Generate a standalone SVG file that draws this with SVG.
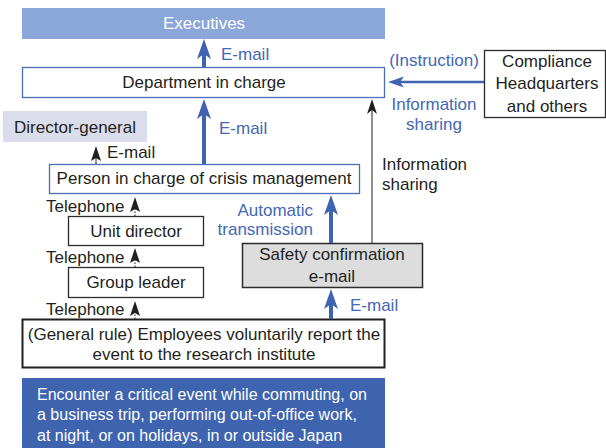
<svg xmlns="http://www.w3.org/2000/svg" width="606" height="448" viewBox="0 0 606 448">
<style>
text{font-family:"Liberation Sans",Arial,Helvetica,sans-serif;font-size:17px;fill:#231f20}
.c{text-anchor:middle}
.e{text-anchor:end}
.w{fill:#ffffff}
.s{font-size:16px}
.b{fill:#4467b4}
.bx{fill:#ffffff;stroke:#2b2b2b;stroke-width:1.3}
.bb{fill:#ffffff;stroke:#4a6db6;stroke-width:1.3}
.thick{stroke:#3f63b0;stroke-width:4;fill:none}
.med{stroke:#3f63b0;stroke-width:2.5;fill:none}
.thin{stroke:#231f20;stroke-width:1;fill:none}
.dot{stroke:#231f20;stroke-width:1;stroke-dasharray:1.5 1.5;fill:none}
</style>
<defs>
<marker id="hb" markerUnits="userSpaceOnUse" viewBox="0 0 20 14" markerWidth="20" markerHeight="14" refX="5" refY="7" orient="auto"><path d="M0,0 L20,7 L0,14 L5,7 Z" fill="#3f63b0"/></marker>
<marker id="hm" markerUnits="userSpaceOnUse" viewBox="0 0 16 11" markerWidth="16" markerHeight="11" refX="4" refY="5.5" orient="auto"><path d="M0,0 L16,5.5 L0,11 L4,5.5 Z" fill="#3f63b0"/></marker>
<marker id="hk" markerUnits="userSpaceOnUse" viewBox="0 0 15 10" markerWidth="15" markerHeight="10" refX="4" refY="5" orient="auto"><path d="M0,0 L15,5 L0,10 L4,5 Z" fill="#231f20"/></marker>
<marker id="ht" markerUnits="userSpaceOnUse" viewBox="0 0 15 10" markerWidth="15" markerHeight="10" refX="3" refY="5" orient="auto"><path d="M0,0 L15,5 L0,10 L3,5 Z" fill="#231f20"/></marker>
</defs>

<g id="executives"><rect x="22" y="8" width="363" height="31" fill="#8ba6d9"/><text class="c w" x="204" y="29">Executives</text></g>
<g id="department"><rect class="bb" x="22.5" y="67.5" width="362" height="30"/><text class="c" x="204" y="88">Department in charge</text></g>
<g id="compliance"><rect class="bx" x="484.5" y="50.5" width="121" height="67"/><text class="c" x="547" y="67">Compliance</text><text class="c" x="547" y="89">Headquarters</text><text class="c" x="547" y="112">and others</text></g>
<g id="director-general"><rect x="3" y="111" width="144" height="31" fill="#dbdcec"/><text class="c" x="75" y="133">Director-general</text></g>
<g id="crisis"><rect class="bb" x="49.5" y="164.5" width="310" height="29"/><text class="c" x="204" y="184">Person in charge of crisis management</text></g>
<g id="unit-director"><rect class="bx" x="68.5" y="216.5" width="135" height="29"/><text class="c" x="136" y="237">Unit director</text></g>
<g id="group-leader"><rect class="bx" x="68.5" y="267.5" width="135" height="30"/><text class="c" x="136" y="288">Group leader</text></g>
<g id="safety"><rect x="242.5" y="243.5" width="180" height="44" fill="#dcdddc" stroke="#2b2b2b" stroke-width="1.5"/><text class="c" x="332" y="260">Safety confirmation</text><text class="c" x="332" y="282">e-mail</text></g>
<g id="general-rule"><rect x="22.5" y="319.5" width="362" height="48" fill="#ffffff" stroke="#231f20" stroke-width="2"/><text class="c" x="204" y="340">(General rule) Employees voluntarily report the</text><text class="c" x="204" y="360">event to the research institute</text></g>
<g id="event"><rect x="22" y="378" width="363" height="70" fill="#3e63af"/><text class="w s" x="37" y="400">Encounter a critical event while commuting, on</text><text class="w s" x="37" y="420">a business trip, performing out-of-office work,</text><text class="w s" x="37" y="441">at night, or on holidays, in or outside Japan</text></g>

<g id="connectors">
<line class="thick" x1="204" y1="67" x2="204" y2="54" marker-end="url(#hb)"/>
<line class="thick" x1="204" y1="164" x2="204" y2="114" marker-end="url(#hb)"/>
<line class="thick" x1="331" y1="243" x2="331" y2="210" marker-end="url(#hb)"/>
<line class="thick" x1="331" y1="319" x2="331" y2="304" marker-end="url(#hb)"/>
<line class="med" x1="484" y1="82" x2="400" y2="82" marker-end="url(#hm)"/>
<line class="thin" x1="372" y1="243" x2="372" y2="110" marker-end="url(#hk)"/>
<line class="thin" x1="96" y1="164" x2="96" y2="158" marker-end="url(#ht)"/>
<line class="dot" x1="135" y1="216" x2="135" y2="209" marker-end="url(#ht)"/>
<line class="dot" x1="135" y1="267" x2="135" y2="260" marker-end="url(#ht)"/>
<line class="dot" x1="135" y1="319" x2="135" y2="313" marker-end="url(#ht)"/>
<text class="b" x="221" y="60">E-mail</text>
<text class="b c" x="434" y="66">(Instruction)</text>
<text class="b c" x="434" y="110">Information</text>
<text class="b c" x="434" y="130">sharing</text>
<text class="b" x="219" y="134">E-mail</text>
<text x="107" y="158">E-mail</text>
<text x="382" y="170">Information</text>
<text x="382" y="190">sharing</text>
<text x="46" y="212">Telephone</text>
<text x="46" y="263">Telephone</text>
<text x="46" y="315">Telephone</text>
<text class="b e" x="313" y="216">Automatic</text>
<text class="b e" x="313" y="235">transmission</text>
<text class="b" x="350" y="311">E-mail</text>
</g>
</svg>
